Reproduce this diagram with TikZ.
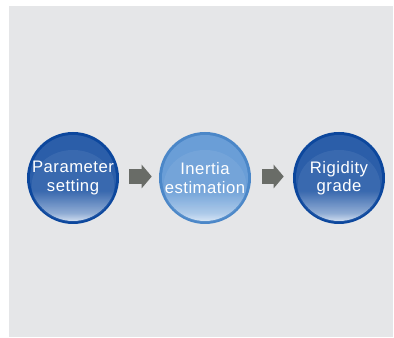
\documentclass[tikz,border=0pt]{standalone}
\usepackage{fontspec}
\setmainfont{Liberation Sans}
\newfontfamily\stagefont[LetterSpace=3]{Liberation Sans}
\usetikzlibrary{arrows.meta}

\definecolor{panelgray}{HTML}{E5E6E8}
\definecolor{ringdark}{HTML}{0C479D}
\definecolor{innerdark}{HTML}{2B5EA9}
\definecolor{ringlight}{HTML}{4B87C8}
\definecolor{innerlight}{HTML}{6A9ED7}
\definecolor{glowbot}{HTML}{E4EEF9}
\definecolor{arrowgray}{HTML}{696C67}

% glass fill: white at the bottom, solid blue above
\pgfdeclareverticalshading{glassdark}{100bp}{color(0bp)=(glowbot); color(25bp)=(glowbot); color(31bp)=(innerdark!50!glowbot); color(43bp)=(innerdark); color(100bp)=(innerdark)}
\pgfdeclareverticalshading{glasslight}{100bp}{color(0bp)=(glowbot); color(25bp)=(glowbot); color(31bp)=(innerlight!50!glowbot); color(43bp)=(innerlight); color(100bp)=(innerlight)}

\begin{document}
\begin{tikzpicture}[x=0.75pt, y=0.75pt,
    stage/.style={circle, minimum size=69pt, inner sep=0pt, text=white, align=center,
        font=\stagefont\fontsize{12.5}{13.8}\selectfont},
    darkstage/.style={stage, fill=ringdark, path picture={
        \shade[shading=glassdark] (path picture bounding box.center) circle (32.25pt);
        \fill[white, opacity=0.07] ([yshift=-6pt]path picture bounding box.center) ellipse (31pt and 27pt);}},
    lightstage/.style={stage, fill=ringlight, path picture={
        \shade[shading=glasslight] (path picture bounding box.center) circle (32.25pt);
        \fill[white, opacity=0.07] ([yshift=-6pt]path picture bounding box.center) ellipse (31pt and 27pt);}},
    flow/.style={arrowgray, line width=11.25pt, -{Triangle[length=7.5pt, width=17.25pt]}}]

    \useasboundingbox (0,0) rectangle (394,338);
    \fill[panelgray] (9,1) rectangle (393,332);

    \node[darkstage]  (param)   at (73,160)  {Parameter\\setting};
    \node[lightstage] (inertia) at (205,160) {Inertia\\estimation};
    \node[darkstage]  (rigid)   at (339,160) {Rigidity\\grade};

    \draw[flow] ([shift={(10,1.5)}]param.east) -- ([shift={(-7,1.5)}]inertia.west);
    \draw[flow] ([shift={(11,1.5)}]inertia.east) -- ([shift={(-9,1.5)}]rigid.west);
\end{tikzpicture}
\end{document}
